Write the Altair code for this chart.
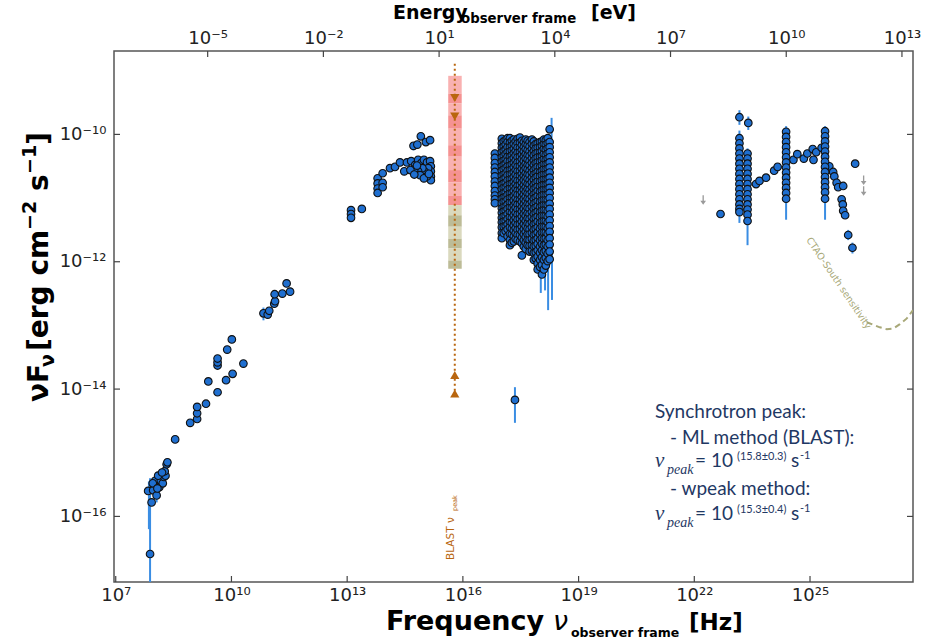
import altair as alt
import numpy as np
import pandas as pd

# ---------------- data (log10 values) ----------------
radio_lognu = [7.89, 7.84, 7.93, 7.97, 8.02, 8.06, 8.13, 8.17, 8.22, 8.25, 8.29, 8.27, 8.32, 8.34,
               7.96, 8.10, 8.20, 8.08, 8.54, 8.93, 9.11, 9.11, 9.11, 9.34, 9.40, 9.64, 9.64, 9.64,
               9.64, 9.86, 9.89, 10.01, 10.03, 10.31, 10.83, 10.94, 10.98, 11.11, 11.13, 11.12,
               11.32, 11.43, 11.52]
radio_logf = [-16.59, -15.60, -15.78, -15.59, -15.44, -15.67, -15.54, -15.44, -15.48, -15.38, -15.36,
              -15.29, -15.18, -15.15, -15.48, -15.36, -15.31, -15.56, -14.79, -14.53, -14.47, -14.38,
              -14.28, -14.23, -13.88, -14.05, -13.63, -13.58, -13.52, -13.86, -13.38, -13.22, -13.76,
              -13.60, -12.81, -12.83, -12.77, -12.66, -12.62, -12.51, -12.50, -12.34, -12.47]

ir_lognu = [13.10, 13.10, 13.10, 13.38, 13.79, 13.79, 13.79, 13.79, 13.92, 13.92, 13.92, 14.11, 14.24,
            14.37, 14.48, 14.55, 14.66, 14.76, 14.84, 14.92, 14.99, 15.07, 15.15, 15.17, 15.17, 15.17,
            15.17, 15.10, 15.02, 14.95, 14.84, 14.74, 14.64, 15.07, 14.89, 14.74, 14.99, 15.12, 14.81,
            14.72, 14.82, 14.91, 15.04, 15.15]
ir_logf = [-11.19, -11.25, -11.31, -11.17, -10.69, -10.77, -10.85, -10.92, -10.61, -10.76, -10.83,
           -10.53, -10.51, -10.44, -10.58, -10.44, -10.42, -10.48, -10.40, -10.45, -10.40, -10.44,
           -10.42, -10.50, -10.58, -10.66, -10.72, -10.53, -10.59, -10.53, -10.58, -10.55, -10.56,
           -10.66, -10.64, -10.63, -10.69, -10.62, -10.49, -10.18, -10.16, -10.03, -10.12, -10.09]

xray_col_lognu = [16.83, 17.01, 17.06, 17.11, 17.16, 17.22, 17.27, 17.32, 17.37, 17.42, 17.48, 17.53,
                  17.58, 17.63, 17.68, 17.73, 17.79, 17.84, 17.89, 17.94, 18.00, 18.05, 18.10, 18.15,
                  18.20, 18.25]
xray_col_logf = [
    [-10.30, -10.37, -10.45, -10.52, -10.59, -10.66, -10.74, -10.81, -10.89, -10.96, -11.02, -11.08],
    [-10.07, -10.14, -10.21, -10.28, -10.36, -10.43, -10.50, -10.57, -10.65, -10.72, -10.79, -10.86,
     -10.94, -11.01, -11.08, -11.16, -11.23, -11.31, -11.38, -11.46, -11.55, -11.63],
    [-10.11, -10.19, -10.26, -10.34, -10.41, -10.48, -10.55, -10.63, -10.70, -10.77, -10.84, -10.92,
     -10.99, -11.06, -11.14, -11.21, -11.29, -11.37, -11.45, -11.55],
    [-10.09, -10.16, -10.24, -10.31, -10.39, -10.46, -10.53, -10.61, -10.68, -10.76, -10.83, -10.91,
     -10.98, -11.05, -11.13, -11.20, -11.28, -11.36, -11.44, -11.52],
    [-10.06, -10.12, -10.20, -10.28, -10.35, -10.42, -10.50, -10.57, -10.64, -10.72, -10.80, -10.87,
     -10.95, -11.02, -11.10, -11.17, -11.25, -11.33, -11.41, -11.49, -11.60],
    [-10.06, -10.13, -10.20, -10.27, -10.35, -10.42, -10.49, -10.56, -10.63, -10.71, -10.78, -10.85,
     -10.93, -11.00, -11.07, -11.15, -11.22, -11.30, -11.38, -11.46, -11.56, -11.66, -11.74],
    [-10.10, -10.18, -10.25, -10.33, -10.40, -10.47, -10.55, -10.62, -10.70, -10.77, -10.85, -10.92,
     -10.99, -11.07, -11.15, -11.23, -11.31, -11.39, -11.48, -11.57, -11.70],
    [-10.08, -10.15, -10.23, -10.30, -10.37, -10.45, -10.52, -10.60, -10.67, -10.75, -10.82, -10.89,
     -10.97, -11.04, -11.12, -11.19, -11.27, -11.35, -11.43, -11.51, -11.60, -11.68],
    [-10.11, -10.18, -10.26, -10.33, -10.41, -10.48, -10.56, -10.63, -10.71, -10.78, -10.85, -10.93,
     -11.00, -11.08, -11.15, -11.23, -11.31, -11.39, -11.47, -11.55, -11.64],
    [-10.07, -10.14, -10.21, -10.29, -10.36, -10.44, -10.51, -10.58, -10.66, -10.73, -10.81, -10.88,
     -10.95, -11.03, -11.10, -11.18, -11.26, -11.34, -11.42, -11.50, -11.58, -11.66],
    [-10.05, -10.13, -10.21, -10.28, -10.35, -10.43, -10.50, -10.58, -10.65, -10.73, -10.80, -10.88,
     -10.95, -11.03, -11.10, -11.18, -11.25, -11.33, -11.41, -11.49, -11.58, -11.68],
    [-10.10, -10.17, -10.25, -10.32, -10.39, -10.47, -10.54, -10.62, -10.69, -10.76, -10.84, -10.91,
     -10.99, -11.06, -11.14, -11.21, -11.29, -11.37, -11.45, -11.53, -11.62, -11.71, -11.90],
    [-10.12, -10.20, -10.27, -10.35, -10.42, -10.50, -10.57, -10.65, -10.72, -10.80, -10.87, -10.95,
     -11.02, -11.10, -11.17, -11.25, -11.33, -11.41, -11.49, -11.57, -11.66, -11.76],
    [-10.08, -10.16, -10.23, -10.31, -10.38, -10.46, -10.53, -10.61, -10.68, -10.75, -10.83, -10.90,
     -10.98, -11.05, -11.13, -11.21, -11.28, -11.36, -11.44, -11.53, -11.61, -11.70, -11.80],
    [-10.10, -10.17, -10.25, -10.33, -10.40, -10.48, -10.55, -10.63, -10.70, -10.78, -10.86, -10.93,
     -11.01, -11.09, -11.16, -11.24, -11.32, -11.40, -11.48, -11.57, -11.66, -11.74],
    [-10.12, -10.19, -10.27, -10.34, -10.42, -10.49, -10.57, -10.64, -10.72, -10.79, -10.87, -10.94,
     -11.02, -11.10, -11.17, -11.25, -11.33, -11.41, -11.49, -11.57, -11.66, -11.75, -11.84],
    [-10.08, -10.15, -10.23, -10.30, -10.38, -10.45, -10.53, -10.60, -10.68, -10.75, -10.83, -10.91,
     -10.98, -11.06, -11.14, -11.22, -11.30, -11.38, -11.46, -11.55, -11.64, -11.74, -11.83],
    [-10.11, -10.18, -10.26, -10.33, -10.41, -10.48, -10.56, -10.63, -10.71, -10.79, -10.86, -10.94,
     -11.01, -11.09, -11.17, -11.25, -11.33, -11.41, -11.50, -11.58, -11.67, -11.76, -11.86, -11.97],
    [-10.15, -10.22, -10.30, -10.38, -10.45, -10.53, -10.61, -10.68, -10.76, -10.84, -10.92, -10.99,
     -11.07, -11.15, -11.23, -11.31, -11.40, -11.48, -11.57, -11.66, -11.75, -11.85, -11.95],
    [-10.14, -10.21, -10.29, -10.36, -10.44, -10.51, -10.59, -10.66, -10.74, -10.82, -10.89, -10.97,
     -11.05, -11.13, -11.21, -11.29, -11.37, -11.46, -11.54, -11.63, -11.72, -11.82, -11.92, -12.03, -12.12],
    [-10.12, -10.20, -10.28, -10.35, -10.43, -10.51, -10.59, -10.66, -10.74, -10.82, -10.90, -10.98,
     -11.06, -11.14, -11.22, -11.30, -11.39, -11.48, -11.57, -11.66, -11.76, -11.86, -11.97, -12.08],
    [-10.11, -10.18, -10.26, -10.34, -10.41, -10.49, -10.57, -10.64, -10.72, -10.80, -10.88, -10.96,
     -11.04, -11.12, -11.20, -11.28, -11.37, -11.45, -11.54, -11.63, -11.72, -11.82, -11.93, -12.05, -12.20],
    [-10.08, -10.16, -10.23, -10.31, -10.39, -10.47, -10.55, -10.63, -10.71, -10.79, -10.87, -10.95,
     -11.03, -11.11, -11.19, -11.28, -11.36, -11.45, -11.54, -11.64, -11.74, -11.85, -11.97, -12.12],
    [-10.09, -10.16, -10.24, -10.32, -10.40, -10.47, -10.55, -10.63, -10.71, -10.79, -10.87, -10.95,
     -11.03, -11.11, -11.19, -11.28, -11.36, -11.45, -11.54, -11.63, -11.73, -11.83, -11.94, -12.06],
    [-10.06, -10.14, -10.22, -10.30, -10.38, -10.46, -10.54, -10.62, -10.70, -10.78, -10.86, -10.94,
     -11.03, -11.11, -11.20, -11.29, -11.38, -11.47, -11.56, -11.66, -11.76, -11.87, -11.99],
    [-9.92, -10.12, -10.20, -10.28, -10.36, -10.44, -10.52, -10.60, -10.68, -10.76, -10.84, -10.92,
     -11.00, -11.09, -11.17, -11.26, -11.35, -11.44, -11.53, -11.63, -11.73, -11.84, -11.96],
]
lone_lognu = [17.35]
lone_logf = [-14.17]

gamma_col_lognu = [23.17, 23.38, 24.38, 25.39]
gamma_col_logf = [
    [-10.06, -10.14, -10.22, -10.30, -10.38, -10.46, -10.54, -10.62, -10.70, -10.78, -10.86, -10.94,
     -11.02, -11.10, -11.17, -11.22],
    [-10.30, -10.38, -10.46, -10.54, -10.62, -10.70, -10.78, -10.86, -10.94, -11.02, -11.10, -11.18,
     -11.26, -11.36],
    [-9.96, -10.04, -10.12, -10.20, -10.28, -10.36, -10.44, -10.52, -10.60, -10.68, -10.76, -10.84,
     -10.92, -11.01],
    [-9.95, -10.03, -10.11, -10.19, -10.27, -10.35, -10.43, -10.51, -10.59, -10.67, -10.75, -10.83,
     -10.91, -11.01],
]
gamma_lognu = [23.17, 23.40, 22.68, 23.60, 23.69, 23.86, 24.07, 24.16, 24.57, 24.67, 24.84, 24.93, 25.07,
               25.09, 25.16, 25.30, 25.50, 25.60, 25.63, 25.69, 25.73, 25.86, 25.82, 25.85, 25.86, 25.91,
               25.99, 26.10, 26.17]
gamma_logf = [-9.73, -9.82, -11.25, -10.78, -10.73, -10.68, -10.57, -10.51, -10.40, -10.31, -10.38, -10.30,
              -10.23, -10.40, -10.28, -10.21, -10.50, -10.59, -10.66, -10.76, -10.83, -10.81, -11.02, -11.10,
              -11.20, -11.27, -11.58, -11.78, -10.46]

err_lognu = [7.89, 7.86, 8.06, 10.83, 11.12, 14.72, 17.35, 18.02, 18.13, 18.21, 18.30, 18.31,
             23.17, 23.40, 23.17, 23.38, 24.38, 25.39, 25.86, 25.99, 26.10, 22.68]
err_lo = [-17.30, -16.20, -15.78, -12.92, -12.58, -10.25, -14.53, -12.49, -12.45, -12.76, -10.15, -12.60,
          -9.85, -9.93, -11.39, -11.74, -11.34, -11.34, -11.28, -11.66, -11.87, -11.30]
err_hi = [-15.40, -15.45, -15.58, -12.72, -12.45, -10.13, -13.97, -12.05, -11.90, -12.00, -9.74, -11.80,
          -9.62, -9.72, -9.94, -10.22, -9.87, -9.87, -11.15, -11.50, -11.70, -11.20]

ul_lognu = [22.23, 26.39, 26.39]
ul_logf = [-11.03, -10.72, -10.89]

ctao_lognu = [26.47, 26.81, 26.99, 27.16, 27.33, 27.51, 27.67]
ctao_logf = [-12.95, -13.03, -13.06, -13.05, -12.98, -12.89, -12.76]

blast_lognu = [15.79]
blast_band_lognu = [15.62, 15.97]
blast_line_logf = [-8.89, -14.13]
blast_down_logf = [-9.43, -9.72]
blast_up_logf = [-13.78, -14.07]
pink_edges = [-9.08, -9.36, -9.51, -9.70, -9.91, -10.17, -10.35, -10.56, -10.75, -10.96, -11.11]
olive_edges = [-11.11, -11.27, -11.45, -11.64, -11.79, -11.98, -12.11]

x_tick_exps = [7, 10, 13, 16, 19, 22, 25]
y_tick_exps = [-16, -14, -12, -10]
e_tick_exps = [-5, -2, 1, 4, 7, 10, 13]
LOG_H = -14.3835  # log10 of Planck constant in eV s

# ---------------- layout ----------------
W, H = 799, 531
L, T = 114, 51
xscale = alt.Scale(type="log", domain=[10 ** 6.955, 10 ** 27.67], nice=False)
yscale = alt.Scale(type="log", domain=[10 ** -17.03, 10 ** -8.69], nice=False)

BLUE = "#1f6fd0"
EBLUE = "#3a8de3"
ORANGE = "#b9660f"
OLIVE = "#a8a878"
NAVY = "#1f3864"
TICK = "#444444"

SUP = str.maketrans("0123456789-", "⁰¹²³⁴⁵⁶⁷⁸⁹⁻")


def lab(e):
    return "10" + str(e).translate(SUP)


def label_expr(exps, shift=0.0):
    expr = "''"
    for e in reversed(exps):
        expr = f"round(log(datum.value)/LN10 - ({shift})) == {e} ? '{lab(e)}' : " + expr
    return expr


def p10(a):
    return 10 ** np.asarray(a, dtype=float)


axis_style = dict(ticks=False, domain=False, grid=False, title=None, labelFont="DejaVu Sans",
                  labelFontSize=18, labelColor="#222222", labelFlush=False, labelOverlap=False,
                  labelBound=False)

# ---------------- tick layers / axes ----------------
xt = pd.DataFrame({"nu": p10(x_tick_exps)})
et = pd.DataFrame({"nu": p10(np.array(e_tick_exps) - LOG_H)})
yt = pd.DataFrame({"f": p10(y_tick_exps)})

bottom_ticks = alt.Chart(xt).mark_rule(color=TICK, strokeWidth=1.2).encode(
    x=alt.X("nu:Q", scale=xscale, axis=alt.Axis(orient="bottom", values=list(p10(x_tick_exps)),
                                                 labelExpr=label_expr(x_tick_exps), labelPadding=4,
                                                 **axis_style)),
    y=alt.value(H), y2=alt.value(H - 6))
top_ticks = alt.Chart(et).mark_rule(color=TICK, strokeWidth=1.2).encode(
    x=alt.X("nu:Q", scale=xscale, axis=alt.Axis(orient="top", values=list(p10(np.array(e_tick_exps) - LOG_H)),
                                                 labelExpr=label_expr(e_tick_exps, -LOG_H), labelPadding=4,
                                                 **axis_style)),
    y=alt.value(0), y2=alt.value(6))
left_ticks = alt.Chart(yt).mark_rule(color=TICK, strokeWidth=1.2).encode(
    y=alt.Y("f:Q", scale=yscale, axis=alt.Axis(orient="left", values=list(p10(y_tick_exps)),
                                                labelExpr=label_expr(y_tick_exps), labelPadding=8,
                                                **axis_style)),
    x=alt.value(0), x2=alt.value(6))
right_ticks = alt.Chart(yt).mark_rule(color=TICK, strokeWidth=1.2).encode(
    y=alt.Y("f:Q", scale=yscale, axis=None), x=alt.value(W - 6), x2=alt.value(W))

X = lambda f="nu": alt.X(f"{f}:Q", scale=xscale, axis=None)
Y = lambda f="f": alt.Y(f"{f}:Q", scale=yscale, axis=None)

# ---------------- BLAST band ----------------
rows = []
for i in range(len(pink_edges) - 1):
    rows.append((pink_edges[i], pink_edges[i + 1], "#f9adad" if i % 2 == 0 else "#f48c8c"))
for i in range(len(olive_edges) - 1):
    rows.append((olive_edges[i], olive_edges[i + 1], "#d8d7bb" if i % 2 == 0 else "#b9b891"))
band = pd.DataFrame({"x1": blast_band_lognu[0], "x2": blast_band_lognu[1],
                     "y1": [r[0] for r in rows], "y2": [r[1] for r in rows], "c": [r[2] for r in rows]})
band["x1"], band["x2"] = p10(band["x1"]), p10(band["x2"])
band["y1"], band["y2"] = p10(band["y1"]), p10(band["y2"])
band_layer = alt.Chart(band).mark_rect(opacity=0.95).encode(
    x=X("x1"), x2="x2", y=Y("y1"), y2="y2", color=alt.Color("c:N", scale=None))

bl = pd.DataFrame({"nu": p10(blast_lognu * 2), "f": p10(blast_line_logf)})
blast_line = alt.Chart(bl).mark_line(color=ORANGE, strokeDash=[2, 3], strokeWidth=2).encode(x=X(), y=Y())
tri_dn = alt.Chart(pd.DataFrame({"nu": p10(blast_lognu * 2), "f": p10(blast_down_logf)})).mark_point(
    shape="triangle-down", filled=True, size=85, color=ORANGE, opacity=1).encode(x=X(), y=Y())
tri_up = alt.Chart(pd.DataFrame({"nu": p10(blast_lognu * 2), "f": p10(blast_up_logf)})).mark_point(
    shape="triangle-up", filled=True, size=85, color=ORANGE, opacity=1).encode(x=X(), y=Y())

# ---------------- SED points ----------------
xr_nu, xr_f = [], []
for nu, fl in zip(xray_col_lognu, xray_col_logf):
    xr_nu += [nu] * len(fl)
    xr_f += fl
g_nu, g_f = list(gamma_lognu), list(gamma_logf)
for nu, fl in zip(gamma_col_lognu, gamma_col_logf):
    g_nu += [nu] * len(fl)
    g_f += fl
all_nu = radio_lognu + ir_lognu + xr_nu + lone_lognu + g_nu
all_f = radio_logf + ir_logf + xr_f + lone_logf + g_f
pts = pd.DataFrame({"nu": p10(all_nu), "f": p10(all_f)})
err = pd.DataFrame({"nu": p10(err_lognu), "lo": p10(err_lo), "hi": p10(err_hi)})

err_layer = alt.Chart(err).mark_rule(color=EBLUE, strokeWidth=2, clip=True).encode(
    x=X(), y=Y("lo"), y2="hi")
pts_layer = alt.Chart(pts).mark_circle(size=58, color=BLUE, stroke="#111111", strokeWidth=1.1,
                                       opacity=1, clip=True).encode(x=X(), y=Y())

ARROW = "M-0.14,-1L0.14,-1L0.14,0.15L0.6,0.15L0,1L-0.6,0.15L-0.14,0.15Z"
ul_layer = alt.Chart(pd.DataFrame({"nu": p10(ul_lognu), "f": p10(ul_logf)})).mark_point(
    shape=ARROW, filled=True, size=90, color="#9a9a9a", opacity=1).encode(x=X(), y=Y())

ctao_layer = alt.Chart(pd.DataFrame({"nu": p10(ctao_lognu), "f": p10(ctao_logf)})).mark_line(
    color=OLIVE, strokeDash=[6, 4], strokeWidth=2, clip=True).encode(x=X(), y=Y())


# ---------------- texts ----------------
def txt(text, px, py, size, color="#000000", weight="normal", style="normal", font="DejaVu Sans",
        angle=0, align="left", baseline="alphabetic"):
    return alt.Chart(pd.DataFrame({"t": [text]})).mark_text(
        align=align, baseline=baseline, font=font, fontSize=size, fontWeight=weight, fontStyle=style,
        color=color, angle=angle).encode(x=alt.value(px - L), y=alt.value(py - T), text="t:N")


texts = [
    # bottom title
    txt("Frequency", 386, 630, 27, weight="bold"),
    txt("ν", 553, 630, 27, style="italic"),
    txt("observer frame", 571, 637, 12.5, weight="bold"),
    txt("[Hz]", 689, 630, 23, weight="bold"),
    # top title
    txt("Energy", 393, 19, 19, weight="bold"),
    txt("observer frame", 461, 23, 13.3, weight="bold"),
    txt("[eV]", 591, 19, 19, weight="bold"),
    # left title (rotated)
    txt("νF", 48, 402, 28, weight="bold", angle=270),
    txt("ν", 54, 367, 19, weight="bold", angle=270),
    txt("[erg cm", 48, 351, 28, weight="bold", angle=270),
    txt("−2", 36, 230, 19, weight="bold", angle=270),
    txt("s", 48, 191, 28, weight="bold", angle=270),
    txt("−1", 36, 174, 19, weight="bold", angle=270),
    txt("]", 48, 145, 28, weight="bold", angle=270),
    # BLAST label
    txt("BLAST ν", 454, 560, 10.5, color=ORANGE, angle=270),
    txt("peak", 457, 511, 6.5, color=ORANGE, angle=270),
    # CTAO label
    txt("CTAO-South sensitivity", 806, 240, 9.5, color=OLIVE, angle=56),
    # annotation box
    txt("Synchrotron peak:", 655, 418, 19, color=NAVY, font="Lato"),
    txt("- ML method (BLAST):", 670, 444, 19, color=NAVY, font="Lato"),
    txt("ν", 655, 467, 21, color=NAVY, font="Liberation Serif", style="italic"),
    txt("peak", 667, 474, 14, color=NAVY, font="Liberation Serif", style="italic"),
    txt("= 10", 695, 467, 19, color=NAVY, font="Lato"),
    txt("(15.8±0.3)", 737, 460, 11, color=NAVY, font="Lato"),
    txt("s", 791, 467, 19, color=NAVY, font="Lato"),
    txt("-1", 800, 459, 11, color=NAVY, font="Lato"),
    txt("- wpeak method:", 670, 495, 19, color=NAVY, font="Lato"),
    txt("ν", 655, 520, 21, color=NAVY, font="Liberation Serif", style="italic"),
    txt("peak", 667, 527, 14, color=NAVY, font="Liberation Serif", style="italic"),
    txt("= 10", 695, 520, 19, color=NAVY, font="Lato"),
    txt("(15.3±0.4)", 737, 513, 11, color=NAVY, font="Lato"),
    txt("s", 791, 520, 19, color=NAVY, font="Lato"),
    txt("-1", 800, 512, 11, color=NAVY, font="Lato"),
]

chart = alt.layer(
    bottom_ticks, top_ticks, left_ticks, right_ticks,
    band_layer, blast_line, tri_dn, tri_up,
    ctao_layer, err_layer, pts_layer, ul_layer,
    *texts,
).resolve_axis(x="independent", y="independent").properties(
    width=W, height=H,
    padding={"left": L, "top": T, "right": 926 - L - W, "bottom": 641 - T - H},
    autosize=alt.AutoSizeParams(type="none"),
    background="white",
).configure_view(stroke="#555555", strokeWidth=1.5)

chart.save("out.html", embed_options={"renderer": "svg", "actions": False})
